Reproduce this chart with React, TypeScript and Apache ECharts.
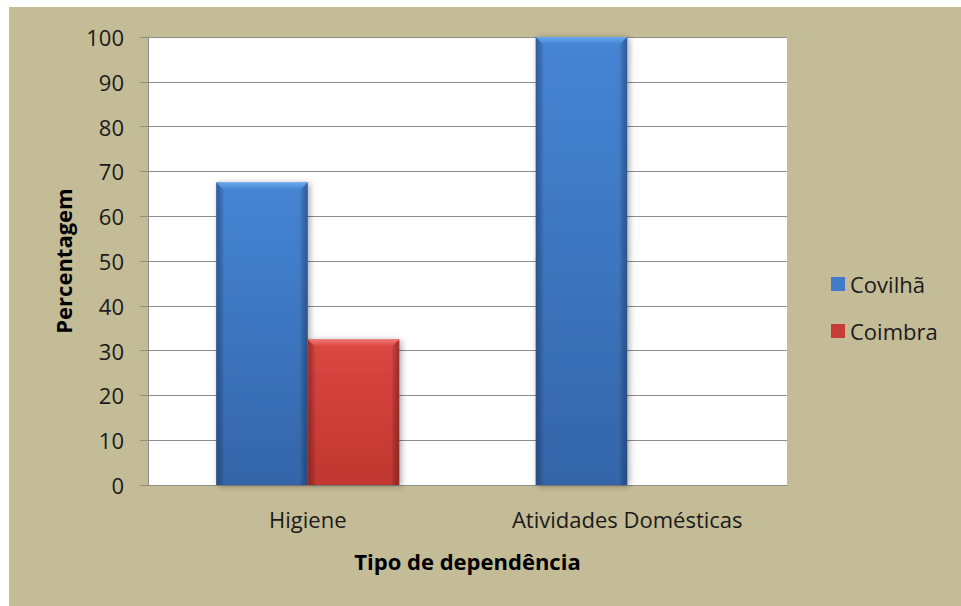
import React, { useEffect, useRef } from "react";
import * as echarts from "echarts";

const categories = ["Higiene", "Atividades Domésticas"];
const seriesNames = ["Covilhã", "Coimbra"];
const covilhaValues = [67.5, 100];
const coimbraValues = [32.5, 0];
const yTicks = { min: 0, max: 100, interval: 10 };

const FONT = "Open Sans";
const GAP = 0.427;

const palettes = [
  { top: "#4585d4", bottom: "#3465a9", edge: "rgba(20,45,90,0.45)", bevel: "#6aa6ee", legend: "#3f7bc8" },
  { top: "#dc4743", bottom: "#c0372f", edge: "rgba(90,15,15,0.45)", bevel: "#f07672", legend: "#c83c38" },
];

function makeRender(seriesPos: number, pal: (typeof palettes)[number]) {
  return (params: any, api: any) => {
    const idx = api.value(0);
    const val = api.value(1);
    if (!val) return null;
    const p0 = api.coord([idx, 0]);
    const p1 = api.coord([idx, val]);
    const catW = api.size([1, 0])[0];
    const bw = (catW * (1 - GAP)) / 2;
    const x = p0[0] - bw + seriesPos * bw;
    const y = p1[1];
    const w = bw;
    const h = p0[1] - p1[1];
    const b = 7;
    return {
      type: "group",
      children: [
        {
          type: "rect",
          shape: { x, y, width: w, height: h },
          style: {
            fill: new echarts.graphic.LinearGradient(0, 0, 0, 1, [
              { offset: 0, color: pal.top },
              { offset: 1, color: pal.bottom },
            ]),
            shadowBlur: 6,
            shadowOffsetX: 2,
            shadowOffsetY: 1,
            shadowColor: "rgba(0,0,0,0.35)",
          },
        },
        {
          type: "rect",
          shape: { x, y, width: w, height: h },
          style: {
            fill: new echarts.graphic.LinearGradient(0, 0, 1, 0, [
              { offset: 0, color: pal.edge },
              { offset: 0.09, color: "rgba(0,0,0,0)" },
              { offset: 0.91, color: "rgba(0,0,0,0)" },
              { offset: 1, color: pal.edge },
            ]),
          },
        },
        {
          type: "polygon",
          shape: {
            points: [
              [x, y],
              [x + w, y],
              [x + w - b, y + b],
              [x + b, y + b],
            ],
          },
          style: {
            fill: new echarts.graphic.LinearGradient(0, 0, 0, 1, [
              { offset: 0, color: pal.bevel },
              { offset: 1, color: pal.top },
            ]),
          },
        },
      ],
    };
  };
}

export default function App() {
  const ref = useRef<HTMLDivElement>(null);
  useEffect(() => {
    if (!ref.current) return;
    const chart = echarts.init(ref.current, null, { renderer: "svg" });
    const valueSets = [covilhaValues, coimbraValues];
    chart.setOption({
      animation: false,
      backgroundColor: "#c4bc97",
      textStyle: { fontFamily: FONT },
      grid: {
        left: 139,
        top: 30,
        right: 174,
        bottom: 121,
        containLabel: false,
        show: true,
        backgroundColor: "#ffffff",
        borderWidth: 0,
      },
      legend: {
        orient: "vertical",
        left: 817,
        top: 261,
        itemGap: 25,
        itemWidth: 14,
        itemHeight: 14,
        icon: "rect",
        textStyle: { fontSize: 22, color: "#1a1a1a", fontFamily: FONT },
        data: seriesNames,
      },
      xAxis: {
        type: "category",
        data: categories,
        axisLine: { lineStyle: { color: "#8c8c8c", width: 1 } },
        axisTick: { show: false },
        axisLabel: { fontSize: 22, color: "#1a1a1a", margin: 23, fontFamily: FONT },
        name: "Tipo de dependência",
        nameLocation: "middle",
        nameGap: 65,
        nameTextStyle: { fontSize: 22, fontWeight: "bold", color: "#000", fontFamily: FONT },
      },
      yAxis: {
        type: "value",
        min: yTicks.min,
        max: yTicks.max,
        interval: yTicks.interval,
        axisLine: { show: true, lineStyle: { color: "#8c8c8c", width: 1 } },
        axisTick: { show: true, length: 8, lineStyle: { color: "#8c8c8c" } },
        axisLabel: { fontSize: 22, color: "#1a1a1a", margin: 24, fontFamily: FONT },
        splitLine: { lineStyle: { color: "#8c8c8c", width: 1 } },
        name: "Percentagem",
        nameLocation: "middle",
        nameGap: 74,
        nameTextStyle: { fontSize: 22, fontWeight: "bold", color: "#000", fontFamily: FONT },
      },
      series: seriesNames.map((name, si) => ({
        name,
        type: "custom",
        itemStyle: { color: palettes[si].legend },
        encode: { x: 0, y: 1 },
        data: valueSets[si].map((v, i) => [i, v]),
        renderItem: makeRender(si, palettes[si]),
      })),
    });
    return () => chart.dispose();
  }, []);
  return (
    <div style={{ position: "absolute", left: 0, top: 0, width: 961, height: 606, background: "#fff" }}>
      <div ref={ref} style={{ position: "absolute", left: 9, top: 7, width: 952, height: 599 }} />
    </div>
  );
}
